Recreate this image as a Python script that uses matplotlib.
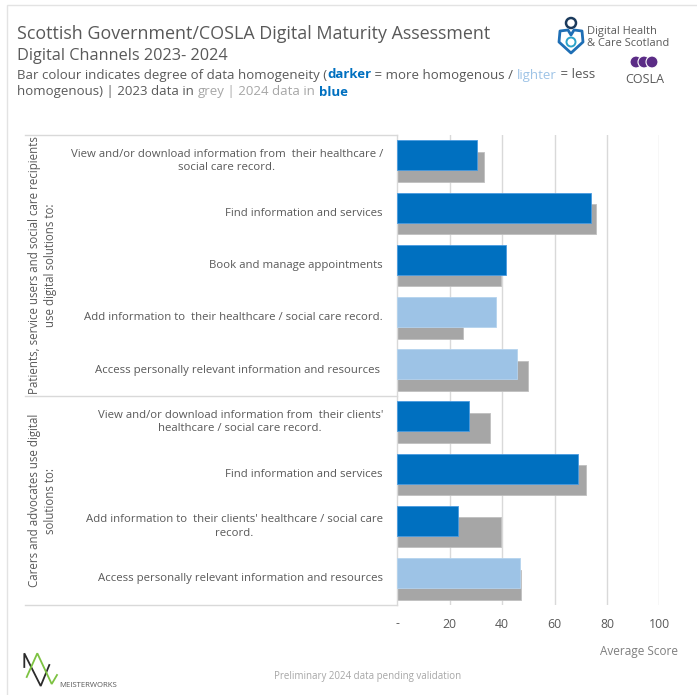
import matplotlib
matplotlib.use("Agg")
import matplotlib.pyplot as plt
from matplotlib.lines import Line2D
from matplotlib.patches import Rectangle, Circle, PathPatch
from matplotlib.path import Path

plt.rcParams['font.family'] = ['Open Sans', 'DejaVu Sans']

# ---- data ----
groups = [
    "Patients, service users and social care recipients\nuse digital solutions to:",
    "Carers and advocates use digital\nsolutions to:",
]
group_sizes = [5, 4]
categories = [
    "View and/or download information from  their healthcare /\nsocial care record.",
    "Find information and services",
    "Book and manage appointments",
    "Add information to  their healthcare / social care record.",
    "Access personally relevant information and resources ",
    "View and/or download information from  their clients'\nhealthcare / social care record.",
    "Find information and services",
    "Add information to  their clients' healthcare / social care\nrecord.",
    "Access personally relevant information and resources",
]
score_2024 = [30.4, 74.0, 41.5, 37.7, 45.7, 27.5, 68.8, 23.3, 46.8]
score_2023 = [33.1, 75.7, 39.6, 25.2, 49.9, 35.3, 71.9, 39.6, 47.1]
homogeneity = ["more", "more", "more", "less", "less", "more", "more", "more", "less"]
tick_values = [0, 20, 40, 60, 80, 100]
tick_labels = ["-", "20", "40", "60", "80", "100"]

# ---- styling ----
DARK_BLUE = "#0070C0"
LIGHT_BLUE = "#9DC3E6"
GREY_BAR = "#A6A6A6"
TEXT = "#595959"
LIGHT_TEXT = "#A6A6A6"
RULE = "#D9D9D9"

W, H = 697, 695
fig = plt.figure(figsize=(W / 100, H / 100), dpi=100)


def fx(x):
    return x / W


def fy(y):
    return 1 - y / H


def hline(y, x0, x1, color=RULE, lw=1.0):
    fig.add_artist(Line2D([fx(x0), fx(x1)], [fy(y), fy(y)], color=color, lw=lw,
                          transform=fig.transFigure))


# outer frame
fig.add_artist(Rectangle((fx(7), fy(700)), fx(700), fy(5) - fy(700), fill=False,
                         edgecolor="#E3E3E3", lw=1.0, transform=fig.transFigure))

# ---- header ----
fig.text(fx(17), fy(39), "Scottish Government/COSLA Digital Maturity Assessment",
         fontsize=12.9, color=TEXT, va="baseline")
fig.text(fx(17), fy(60.5), "Digital Channels 2023- 2024",
         fontsize=11.7, color=TEXT, va="baseline")

renderer = fig.canvas.get_renderer()


def rich_line(x, y, pieces, size=9.5):
    cur = fx(x)
    for txt, color, weight in pieces:
        t = fig.text(cur, fy(y), txt, fontsize=size, color=color,
                     fontweight=weight, va="baseline")
        bb = t.get_window_extent(renderer=renderer)
        cur += bb.width / (W)


rich_line(17, 78.5, [
    ("Bar colour indicates degree of data homogeneity (", TEXT, "normal"),
    ("darker", DARK_BLUE, "bold"),
    (" = more homogenous / ", TEXT, "normal"),
    ("lighter", LIGHT_BLUE, "normal"),
    (" = less", TEXT, "normal"),
])
rich_line(17, 95.5, [
    ("homogenous) | 2023 data in ", TEXT, "normal"),
    ("grey", LIGHT_TEXT, "normal"),
    (" | 2024 data in ", LIGHT_TEXT, "normal"),
    ("blue", DARK_BLUE, "bold"),
])

# Digital Health & Care Scotland mark
head = Circle((fx(571), fy(23)), 5.0 / W, transform=fig.transFigure,
              fill=False, edgecolor="#1B3A5C", lw=1.8)
fig.add_artist(head)
cx, cy = 571, 41
heart_pts = [(cx, cy + 12), (cx - 12, cy + 1), (cx - 11, cy - 10), (cx - 3, cy - 11),
             (cx, cy - 6), (cx + 3, cy - 11), (cx + 11, cy - 10), (cx + 12, cy + 1),
             (cx, cy + 12)]
heart = PathPatch(Path([(fx(a), fy(b)) for a, b in heart_pts],
                       [Path.MOVETO] + [Path.LINETO] * (len(heart_pts) - 2) + [Path.CLOSEPOLY]),
                  transform=fig.transFigure, fill=False, edgecolor="#1F6FB5", lw=2.0,
                  joinstyle="round")
fig.add_artist(heart)
fig.add_artist(Circle((fx(cx), fy(cy + 1)), 4.5 / W, transform=fig.transFigure,
                      fill=False, edgecolor="#2BA3C9", lw=1.4))
fig.text(fx(587), fy(34), "Digital Health", fontsize=7.9, color=TEXT, va="baseline")
fig.text(fx(587), fy(46.5), "& Care Scotland", fontsize=7.9, color=TEXT, va="baseline")

# COSLA mark
for dx in (-8, 0, 8):
    fig.add_artist(Circle((fx(644 + dx), fy(62)), 6.0 / W, transform=fig.transFigure,
                          facecolor="#5B2C86", edgecolor="white", lw=0.8))
fig.text(fx(645), fy(83), "COSLA", fontsize=9, color=TEXT, ha="center", va="baseline")

# ---- bar chart ----
AX_L, AX_R, AX_T, AX_B = 397.3, 659.3, 135, 605
ax = fig.add_axes([fx(AX_L), fy(AX_B), fx(AX_R) - fx(AX_L), fy(AX_T) - fy(AX_B)])
n = len(categories)
pos = list(range(n))
bar_h = 0.575
shift = 0.11

ax.barh([p + shift for p in pos], score_2023, height=bar_h, color=GREY_BAR,
        edgecolor="#BFBFBF", lw=0.6, zorder=2)
blue_cols = [DARK_BLUE if h == "more" else LIGHT_BLUE for h in homogeneity]
ax.barh([p - shift for p in pos], score_2024, height=bar_h, color=blue_cols,
        edgecolor=["#4A9BE0" if h == "more" else "#B5D3EE" for h in homogeneity],
        lw=0.6, zorder=3)

ax.set_xlim(0, 100)
ax.set_ylim(n - 0.5, -0.5)
ax.set_xticks(tick_values)
ax.set_xticklabels(tick_labels)
ax.set_yticks([])
ax.tick_params(axis="x", length=0, pad=9, labelsize=8.8, labelcolor=TEXT)
for v in tick_values[1:]:
    ax.axvline(v, color=RULE, lw=1.0, zorder=1)
for side in ("top", "right", "bottom"):
    ax.spines[side].set_visible(False)
ax.spines["left"].set_color(RULE)
ax.spines["left"].set_linewidth(1.0)
ax.set_facecolor("none")

# ---- category panel ----
hline(AX_T, 25, AX_L)
row_px = (AX_B - AX_T) / n
split_y = AX_T + group_sizes[0] * row_px
hline(split_y, 25, AX_L)
hline(AX_B, 25, AX_L)

for i, lab in enumerate(categories):
    yc = AX_T + (i + 0.5) * row_px
    fig.text(fx(383), fy(yc), lab, fontsize=8.2, color=TEXT, ha="right",
             va="center", multialignment="center", linespacing=1.3)

start = 0
for g, size in zip(groups, group_sizes):
    y0 = AX_T + start * row_px
    y1 = AX_T + (start + size) * row_px
    fig.text(fx(42.5), fy((y0 + y1) / 2), g, fontsize=8.3, color=TEXT, rotation=90,
             ha="center", va="center", multialignment="center", linespacing=1.3)
    start += size

# ---- footer ----
fig.text(fx(678), fy(655), "Average Score", fontsize=8.5, color="#7F7F7F",
         ha="right", va="baseline")
fig.text(fx(368), fy(679), "Preliminary 2024 data pending validation", fontsize=7.0,
         color=LIGHT_TEXT, ha="center", va="baseline")

# Meisterworks mark
def px_line(pts, color, lw=1.3):
    fig.add_artist(Line2D([fx(a) for a, b in pts], [fy(b) for a, b in pts],
                          color=color, lw=lw, transform=fig.transFigure,
                          solid_joinstyle="miter"))


px_line([(24.3, 667), (24.3, 653.3), (40.7, 686), (49.3, 665)], "#2B2B2B")
px_line([(26.7, 677), (37.3, 653.3), (51.7, 684), (57, 675)], "#7DC242")
fig.text(fx(59), fy(687), "MEISTERWORKS", fontsize=5.6, color=TEXT, va="baseline")

fig.savefig("out.png", dpi=100, facecolor="white")
